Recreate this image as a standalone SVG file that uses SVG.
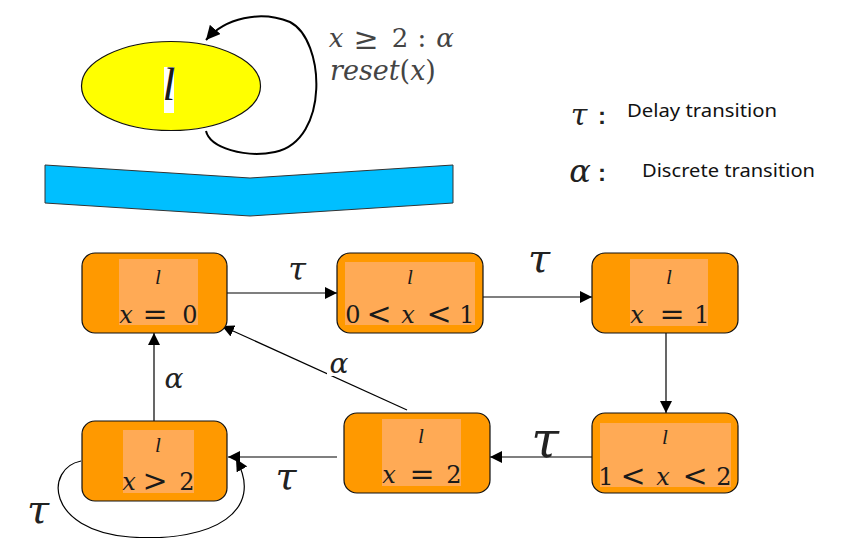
<svg xmlns="http://www.w3.org/2000/svg" width="843" height="538" viewBox="0 0 843 538">
<style>
.node{fill:#FF9900;stroke:#111;stroke-width:1.2}
.inner{fill:#FFAA55}
.mt{font-family:"DejaVu Serif","Liberation Serif",serif;fill:#1a1a1a;text-anchor:middle;font-size:24px}
.ll{font-family:"Liberation Serif","DejaVu Serif",serif;font-style:italic;fill:#1a1a1a;text-anchor:middle;font-size:21px}
.i{font-style:italic}
.op{font-size:30px}
.gr{font-family:"DejaVu Serif","Liberation Serif",serif;font-style:italic;fill:#222;text-anchor:middle}
.edge{stroke:#000;stroke-width:1.2;fill:none}
.leg{font-family:"Noto Sans","DejaVu Sans",sans-serif;fill:#111;font-size:18px}
</style>
<defs>
<marker id="ah" viewBox="0 0 12 12" refX="12" refY="6" markerWidth="12" markerHeight="12" markerUnits="userSpaceOnUse" orient="auto"><path d="M0,0 L12,6 L0,12 z" fill="#000"/></marker>
<marker id="ah2" viewBox="0 0 12 12" refX="12" refY="6" markerWidth="14" markerHeight="14" markerUnits="userSpaceOnUse" orient="auto"><path d="M0,0 L12,6 L0,12 z" fill="#000"/></marker>
</defs>
<rect width="843" height="538" fill="#fff"/>

<g id="automaton">
<ellipse cx="171" cy="86" rx="89.5" ry="44.5" fill="#FFFF00" stroke="#111" stroke-width="1.2"/>
<rect x="164" y="67" width="10" height="46" fill="#fff"/>
<text x="169" y="100" class="ll" font-size="46" fill="#111" style="font-size:46px">l</text>
<path d="M 206 131 C 210 148, 245 158, 275 152 C 330 140, 325 40, 290 22 C 260 10, 225 18, 206 40" stroke="#000" stroke-width="2" fill="none" marker-end="url(#ah2)"/>
<text class="mt" style="fill:#444;font-size:26px"><tspan class="i" x="336" y="47">x</tspan><tspan x="366" y="49" class="op">≥</tspan><tspan x="400" y="47">2</tspan><tspan x="422" y="47">:</tspan><tspan class="i" x="445" y="47">α</tspan></text>
<text x="330" y="80" class="mt i" style="fill:#444;font-size:27px;text-anchor:start">reset<tspan font-style="normal">(</tspan>x<tspan font-style="normal">)</tspan></text>
</g>

<g id="bigarrow">
<polygon points="45,165 250,178 453,165 453,203 250,216 45,203" fill="#00BFFF" stroke="#333" stroke-width="1"/>
</g>

<g id="legend">
<text x="579" y="125" class="gr" font-size="30">τ</text>
<text x="598" y="124" font-family="Liberation Sans,sans-serif" font-size="24" font-weight="bold" fill="#222">:</text>
<text x="627" y="117" class="leg" textLength="150" lengthAdjust="spacingAndGlyphs">Delay transition</text>
<text x="580" y="182" class="gr" font-size="32" fill="#333">α</text>
<text x="598" y="181" font-family="Liberation Sans,sans-serif" font-size="24" font-weight="bold" fill="#222">:</text>
<text x="642" y="177" class="leg" textLength="173" lengthAdjust="spacingAndGlyphs">Discrete transition</text>
</g>

<g id="connectors">
<line class="edge" x1="227" y1="293" x2="337" y2="293" marker-end="url(#ah)"/>
<line class="edge" x1="483" y1="297" x2="592" y2="297" marker-end="url(#ah)"/>
<line class="edge" x1="666" y1="333" x2="666" y2="413" marker-end="url(#ah)"/>
<line class="edge" x1="592" y1="457" x2="490" y2="457" marker-end="url(#ah)"/>
<line class="edge" x1="337" y1="457" x2="228" y2="457" marker-end="url(#ah)"/>
<line class="edge" x1="154" y1="421" x2="154" y2="333" marker-end="url(#ah)"/>
<line class="edge" x1="407" y1="410" x2="222" y2="326" marker-end="url(#ah)"/>
<path class="edge" d="M 81 461 C 45 468, 45 530, 130 537 C 215 543, 265 510, 236 459" marker-end="url(#ah)"/>
<text x="297" y="280" class="gr" font-size="32">τ</text>
<text x="539" y="272" class="gr" font-size="40">τ</text>
<text x="545" y="457" class="gr" font-size="50">τ</text>
<text x="286" y="489" class="gr" font-size="38">τ</text>
<text x="174" y="388" class="gr" font-size="28" fill="#333">α</text>
<rect x="327" y="353" width="24" height="23" fill="#fff"/>
<text x="339" y="373" class="gr" font-size="28" fill="#333">α</text>
<rect x="22" y="500" width="32" height="26" fill="#fff"/>
<text x="38" y="523" class="gr" font-size="40">τ</text>
</g>

<g id="n_x0">
<rect class="node" x="82" y="253" width="145" height="80" rx="13"/>
<rect class="inner" x="119" y="259" width="79" height="66"/>
<text x="158" y="284" class="ll">l</text>
<text class="mt"><tspan class="i" x="126" y="323">x</tspan><tspan class="op" x="155" y="324">=</tspan><tspan x="190" y="323">0</tspan></text>
</g>
<g id="n_0x1">
<rect class="node" x="337" y="253" width="146" height="80" rx="13"/>
<rect class="inner" x="345" y="262" width="130" height="63"/>
<text x="410" y="284" class="ll">l</text>
<text class="mt"><tspan x="353" y="323">0</tspan><tspan class="op" x="379" y="324">&lt;</tspan><tspan class="i" x="408" y="323">x</tspan><tspan class="op" x="439" y="324">&lt;</tspan><tspan x="467" y="323">1</tspan></text>
</g>
<g id="n_x1">
<rect class="node" x="592" y="253" width="146" height="80" rx="13"/>
<rect class="inner" x="630" y="259" width="78" height="67"/>
<text x="669" y="284" class="ll">l</text>
<text class="mt"><tspan class="i" x="637" y="323">x</tspan><tspan class="op" x="672" y="324">=</tspan><tspan x="702" y="323">1</tspan></text>
</g>
<g id="n_1x2">
<rect class="node" x="592" y="413" width="146" height="80" rx="13"/>
<rect class="inner" x="600" y="423" width="131" height="64"/>
<text x="665" y="444" class="ll">l</text>
<text class="mt"><tspan x="606" y="485">1</tspan><tspan class="op" x="633" y="486">&lt;</tspan><tspan class="i" x="663" y="485">x</tspan><tspan class="op" x="695" y="486">&lt;</tspan><tspan x="724" y="485">2</tspan></text>
</g>
<g id="n_x2">
<rect class="node" x="344" y="413" width="146" height="80" rx="13"/>
<rect class="inner" x="382" y="419" width="79" height="67"/>
<text x="421" y="443" class="ll">l</text>
<text class="mt"><tspan class="i" x="389" y="483">x</tspan><tspan class="op" x="422" y="484">=</tspan><tspan x="454" y="483">2</tspan></text>
</g>
<g id="n_xgt2">
<rect class="node" x="82" y="421" width="145" height="80" rx="13"/>
<rect class="inner" x="123" y="430" width="71" height="63"/>
<text x="158" y="452" class="ll">l</text>
<text class="mt"><tspan class="i" x="129" y="490">x</tspan><tspan class="op" x="155" y="491">&gt;</tspan><tspan x="187" y="490">2</tspan></text>
</g>
</svg>
